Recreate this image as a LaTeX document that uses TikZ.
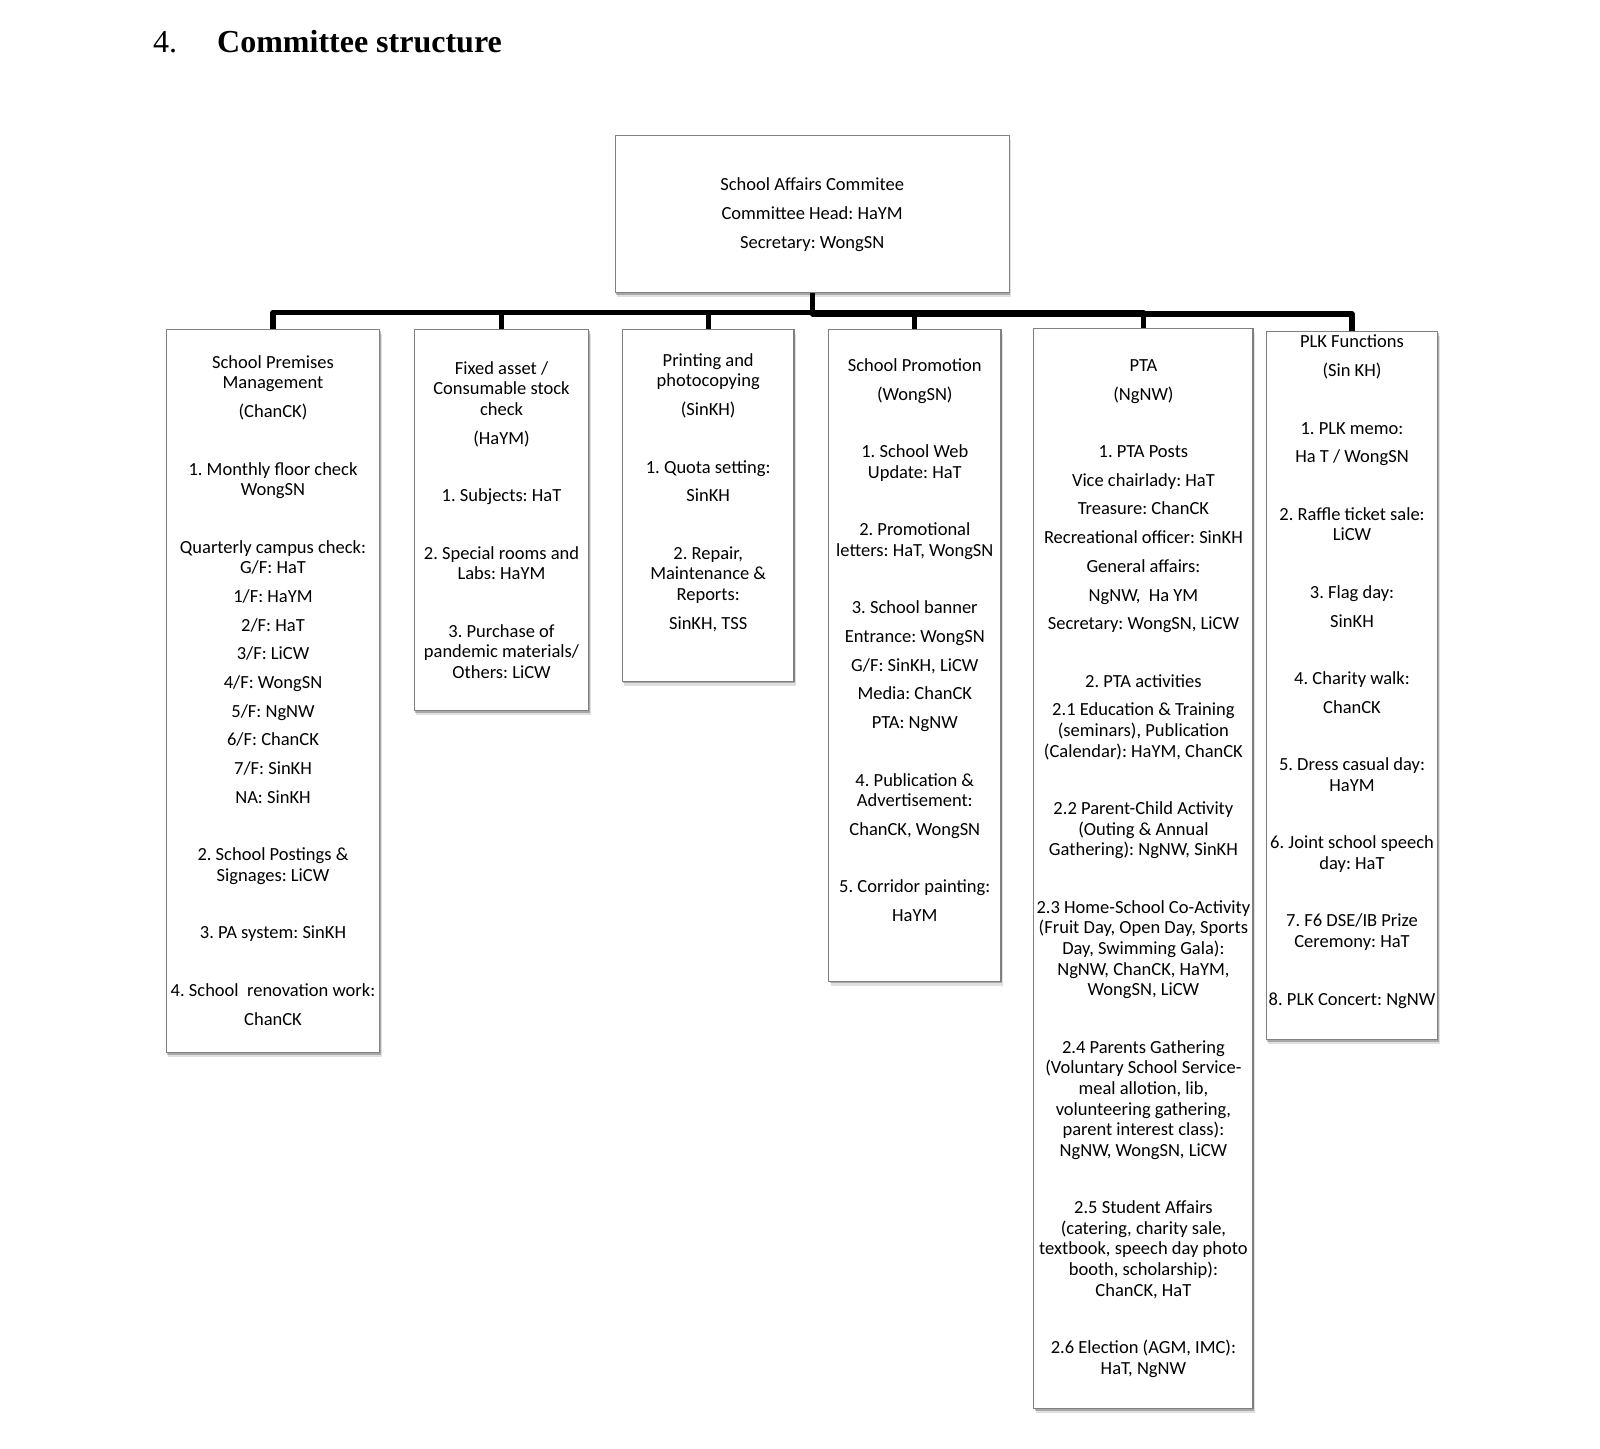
\documentclass[tikz,border=0pt]{standalone}
\usepackage{fontspec}
\setmainfont{Carlito}
\newfontfamily\titlefont{Liberation Serif}
\usetikzlibrary{shadows}
\newcommand\pb{\\[8.1pt]}
\newcommand\bb{\\[36.9pt]}
\tikzset{
  box/.style={draw=black!50, line width=1.2pt, fill=white, inner sep=0pt, anchor=north,
    drop shadow={shadow xshift=2pt, shadow yshift=-4.5pt, opacity=0.12, fill=black},
    drop shadow={shadow xshift=1pt, shadow yshift=-2.2pt, opacity=0.25, fill=black}},
  txt/.style={align=center, anchor=north, inner sep=0pt, yshift=16pt,
    font=\fontsize{18.5}{20.6}\selectfont\frenchspacing, execute at begin node={\rule{0pt}{16pt}}},
  conn/.style={line width=5.2pt, line join=round, black},
  ttl/.style={anchor=base west, inner sep=0pt, font=\titlefont\fontsize{32}{36}\selectfont}
}
\begin{document}
\begin{tikzpicture}[x=1pt,y=-1pt]
\useasboundingbox (0,0) rectangle (1600,1448);
% title
\node[ttl] (num) at (153,52) {4.};
\node[ttl] (title) at (217,52) {\bfseries Committee structure};
% boxes
\node[box, minimum width=393.9, minimum height=157.1] (top) at (812.2,134.7) {};
\node[box, minimum width=213.3, minimum height=723.4] (b1) at (273,328.6) {};
\node[box, minimum width=174.5, minimum height=381.6] (b2) at (501.5,328.6) {};
\node[box, minimum width=171.5, minimum height=352.0] (b3) at (708.2,328.6) {};
\node[box, minimum width=172.4, minimum height=652.0] (b4) at (914.8,328.6) {};
\node[box, minimum width=219.3, minimum height=1080.6] (b5) at (1143.4,327.6) {};
\node[box, minimum width=171.5, minimum height=708.2] (b6) at (1352,330.6) {};
% connectors
\coordinate (busA) at (811,312.2);
\coordinate (busB) at (811,314.0);
\draw[conn] (top.south) -- (top.south |- busA) -| (b1.north);
\draw[conn] (top.south) -- (top.south |- busA) -| (b2.north);
\draw[conn] (top.south) -- (top.south |- busA) -| (b3.north);
\draw[conn] (top.south) -- (top.south |- busA) -| (b4.north);
\draw[conn] (top.south) -- (top.south |- busA) -| (b5.north);
\draw[conn] (top.south) -- (top.south |- busB) -| (b6.north);
% texts
\node[txt] (ttop) at (812.2,193.7) {School Affairs Commitee\pb Committee Head: HaYM\pb Secretary: WongSN};
\node[txt] (t1) at (273,371.2) {School Premises\\Management\pb (ChanCK)\bb 1. Monthly floor check\\WongSN\bb Quarterly campus check:\\G/F: HaT\pb 1/F: HaYM\pb 2/F: HaT\pb 3/F: LiCW\pb 4/F: WongSN\pb 5/F: NgNW\pb 6/F: ChanCK\pb 7/F: SinKH\pb NA: SinKH\bb 2. School Postings \&\\Signages: LiCW\bb 3. PA system: SinKH\bb 4. School\ \ renovation work:\pb ChanCK};
\node[txt] (t2) at (501.5,377.3) {Fixed asset /\\Consumable stock\\check\pb (HaYM)\bb 1. Subjects: HaT\bb 2. Special rooms and\\Labs: HaYM\bb 3. Purchase of\\pandemic materials/\\Others: LiCW};
\node[txt] (t3) at (708.2,369.2) {Printing and\\photocopying\pb (SinKH)\bb 1. Quota setting:\pb SinKH\bb 2. Repair,\\Maintenance \&\\Reports:\pb SinKH, TSS};
\node[txt] (t4) at (914.8,374.3) {School Promotion\pb (WongSN)\bb 1. School Web\\Update: HaT\bb 2. Promotional\\letters: HaT, WongSN\bb 3. School banner\pb Entrance: WongSN\pb G/F: SinKH, LiCW\pb Media: ChanCK\pb PTA: NgNW\bb 4. Publication \&\\Advertisement:\pb ChanCK, WongSN\bb 5. Corridor painting:\pb HaYM};
\node[txt] (t5) at (1143.4,375.3) {PTA\pb (NgNW)\bb 1. PTA Posts\pb Vice chairlady: HaT\pb Treasure: ChanCK\pb Recreational officer: SinKH\pb General affairs:\pb NgNW,\ \ Ha YM\pb Secretary: WongSN, LiCW\bb 2. PTA activities\pb 2.1 Education \& Training\\(seminars), Publication\\(Calendar): HaYM, ChanCK\bb 2.2 Parent-Child Activity\\(Outing \& Annual\\Gathering): NgNW, SinKH\bb 2.3 Home-School Co-Activity\\(Fruit Day, Open Day, Sports\\Day, Swimming Gala):\\NgNW, ChanCK, HaYM,\\WongSN, LiCW\bb 2.4 Parents Gathering\\(Voluntary School Service-\\meal allotion, lib,\\volunteering gathering,\\parent interest class):\\NgNW, WongSN, LiCW\bb 2.5 Student Affairs\\(catering, charity sale,\\textbook, speech day photo\\booth, scholarship):\\ChanCK, HaT\bb 2.6 Election (AGM, IMC):\\HaT, NgNW};
\node[txt] (t6) at (1352,350.8) {PLK Functions\pb (Sin KH)\bb 1. PLK memo:\pb Ha T / WongSN\bb 2. Raffle ticket sale:\\LiCW\bb 3. Flag day:\pb SinKH\bb 4. Charity walk:\pb ChanCK\bb 5. Dress casual day:\\HaYM\bb 6. Joint school speech\\day: HaT\bb 7. F6 DSE/IB Prize\\Ceremony: HaT\bb 8. PLK Concert: NgNW};
\end{tikzpicture}
\end{document}
